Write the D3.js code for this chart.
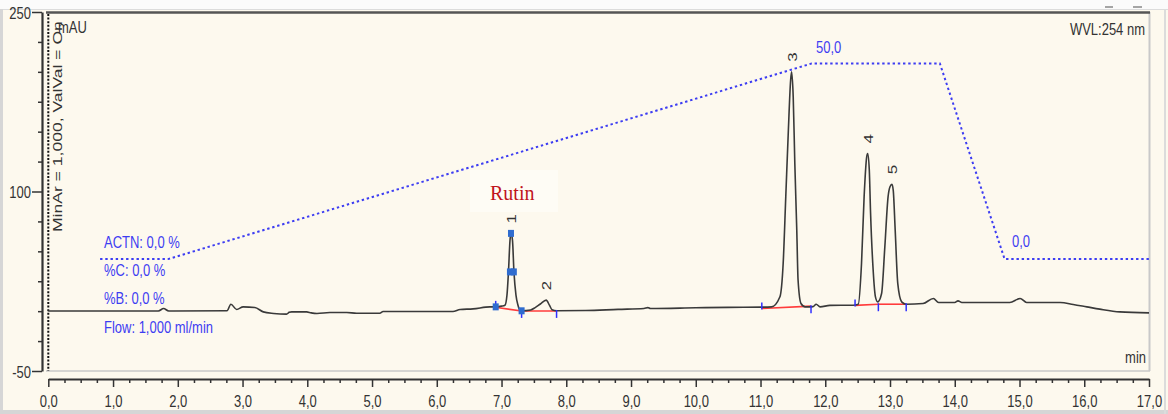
<!DOCTYPE html>
<html lang="en">
<head>
  <meta charset="UTF-8">
  <title>Chromatogram</title>
  <script src="https://d3js.org/d3.v7.min.js"></script>
  <style>
    body {
      margin: 0;
      padding: 0;
      background-color: #fdf9ee;
      overflow: hidden;
    }
    svg text {
      font-family: "Liberation Sans", Arial, sans-serif;
    }
  </style>
</head>
<body>
  <svg id="chart"></svg>

  <script>
    // retention time (min) and signal (mAU)
    const timeMin = [0.00, 1.70, 1.78, 1.86, 2.76, 2.82, 2.91, 3.01, 3.19, 3.32, 3.48, 3.68, 3.72, 3.76,
      3.99, 4.06, 4.15, 4.35, 4.61, 4.76, 5.12, 5.17, 6.25, 6.36, 6.56, 6.82, 6.91, 7.00,
      7.053, 7.084, 7.107, 7.131, 7.146, 7.169, 7.192, 7.223, 7.254, 7.285, 7.31,
      7.45, 7.52, 7.60, 7.69, 7.74, 7.78, 7.85, 8.30, 8.80, 9.20, 9.26, 9.30, 10.00, 10.50,
      11.02, 11.17, 11.30, 11.35, 11.39, 11.43, 11.465, 11.48, 11.505, 11.53, 11.56, 11.58, 11.625,
      11.69, 11.76, 11.81, 11.86, 11.92, 12.07, 12.43,
      12.51, 12.56, 12.60, 12.64, 12.655, 12.68, 12.70, 12.74, 12.775, 12.81,
      12.87, 12.92, 12.97, 13.00, 13.03, 13.05, 13.08, 13.12, 13.18, 13.25,
      13.51, 13.67, 13.75, 14.00, 14.05, 14.11, 14.85, 15.01, 15.11, 15.63, 15.83, 16.04, 16.24, 16.55, 17.00];
    const signalMAU = [0.2, 0.2, 2.2, 0.2, 0.3, 5.8, 1.4, 3.6, 3.1, -0.6, -1.9, -2.5, -1.0, -0.6,
      -0.6, -1.4, -1.9, -1.1, -1.1, -1.7, -1.7, -0.3, -0.3, 1.4, 1.9, 3.6, 3.6, 4.2,
      5.0, 13.4, 32.6, 59.3, 65.0, 59.3, 32.6, 13.4, 5.0, 0.8, 0.3,
      1.0, 3.0, 6.0, 9.2, 5.0, 1.2, 0.3, 0.5, 1.5, 2.2, 3.0, 2.2, 2.8, 3.2,
      3.4, 3.6, 12, 40, 95.5, 151, 193, 200, 179, 123, 67.7, 26, 6.4,
      3.6, 3.6, 3.8, 5.8, 3.6, 4.8, 5.0,
      5.8, 40, 95.5, 129, 131.8, 118, 81.6, 34, 12, 7.8,
      14.8, 53.7, 95.5, 104, 106, 101, 67.7, 23, 7.8, 5.8,
      6.4, 10.6, 7.3, 7.3, 8.6, 7.3, 7.3, 10.6, 7.3, 7.3, 5.6, 3.6, 1.7, -0.6, -1.4];

    // peak apexes
    const peakNames = ["1", "2", "3", "4", "5"];
    const peakTimes = [7.146, 7.69, 11.48, 12.655, 13.03];
    const peakHeights = [65.0, 9.2, 200, 131.8, 106];

    // integration baselines: start/end time and level
    const baseStart = [6.93, 7.31, 11.02, 12.46, 12.82];
    const baseStartMAU = [3.0, 0.2, 2.2, 4.8, 5.8];
    const baseEnd = [7.31, 7.85, 11.78, 12.82, 13.25];
    const baseEndMAU = [0.2, 0.2, 4.2, 5.8, 5.8];

    // peak delimiter ticks (time, level, direction)
    const delimTimes = [6.91, 7.31, 7.85, 11.02, 11.78, 12.46, 12.82, 13.25];
    const delimMAU = [3.6, 0.2, 0.2, 2.2, 4.2, 4.8, 5.8, 5.8];
    const delimUp = [true, false, false, true, false, true, false, false];

    // blue markers drawn on peak 1
    const markTimes = [6.91, 7.13, 7.19, 7.146, 7.31];
    const markMAU = [3.6, 32.8, 32.8, 65.0, 0.3];

    // solvent gradient program
    const gradTime = [0.8, 1.85, 11.79, 13.77, 14.77, 17.0];
    const gradPct = [0, 0, 50, 50, 0, 0];

    const xTicks = d3.range(0, 18);
    const yTicks = [250, 100, -50];
    const infoLines = ["ACTN: 0,0 %", "%C: 0,0 %", "%B: 0,0 %", "Flow: 1,000 ml/min"];

    const W = 1168, H = 414;
    const SY = 1.3; // text in the picture is drawn taller than wide
    const svg = d3.select("#chart").attr("width", W).attr("height", H);

    const x = d3.scaleLinear().domain([0, 17]).range([48.3, 1149]);
    const y = d3.scaleLinear().domain([-50, 250]).range([371, 12]);
    const yG = d3.scaleLinear().domain([0, 50]).range([y(43.5), y(207)]);

    function label(txt, px, py, opt) {
      opt = opt || {};
      const t = svg.append("text")
        .attr("transform", `translate(${px},${py}) scale(1,${opt.sy || SY})` + (opt.rot ? " rotate(-90)" : ""))
        .attr("font-size", (opt.size || 13) + "px")
        .attr("fill", opt.color || "#222")
        .attr("text-anchor", opt.anchor || "start")
        .text(txt);
      if (opt.family) t.style("font-family", opt.family);
      return t;
    }

    // window frame
    svg.append("rect").attr("x", 0).attr("y", 0).attr("width", W).attr("height", 9).attr("fill", "#fbfbfb");
    svg.append("line").attr("x1", 0).attr("x2", W).attr("y1", 9.5).attr("y2", 9.5).attr("stroke", "#dcdcdc");
    svg.append("line").attr("x1", 1.5).attr("x2", 1.5).attr("y1", 9).attr("y2", H).attr("stroke", "#d6d6d6").attr("stroke-width", 3);
    svg.append("line").attr("x1", 0).attr("x2", W).attr("y1", 412).attr("y2", 412).attr("stroke", "#d6d6d6").attr("stroke-width", 4);
    svg.append("line").attr("x1", 1165).attr("x2", 1165).attr("y1", 9).attr("y2", H).attr("stroke", "#dcdcdc").attr("stroke-width", 2);
    svg.append("line").attr("x1", 1105).attr("x2", 1113).attr("y1", 7).attr("y2", 7).attr("stroke", "#888").attr("stroke-width", 1.5);
    svg.append("line").attr("x1", 1133).attr("x2", 1142).attr("y1", 7).attr("y2", 7).attr("stroke", "#888").attr("stroke-width", 1.5);

    // plot frame
    svg.append("line").attr("x1", 1149.5).attr("x2", 1149.5).attr("y1", 12).attr("y2", 371).attr("stroke", "#c9c9c9").attr("stroke-width", 2);
    svg.append("line").attr("x1", 46).attr("x2", 1150).attr("y1", 371).attr("y2", 371).attr("stroke", "#c9c9c9").attr("stroke-width", 1.5);
    svg.append("line").attr("x1", 46).attr("x2", 1150).attr("y1", 12.5).attr("y2", 12.5).attr("stroke", "#555").attr("stroke-width", 2.5);

    // Rutin backdrop
    svg.append("rect").attr("x", 470).attr("y", 170).attr("width", 88).attr("height", 42).attr("fill", "#fefcf5");

    // y axis
    const yMinor = d3.range(-50, 251, 25).filter(v => !yTicks.includes(v));
    svg.append("g").attr("transform", "translate(42,0)")
      .call(d3.axisLeft(y).tickValues(yMinor).tickSize(4).tickFormat("").tickSizeOuter(0))
      .call(g => g.select(".domain").attr("stroke", "#333").attr("stroke-width", 2.2))
      .call(g => g.selectAll(".tick line").attr("stroke", "#333").attr("stroke-width", 1.5));
    svg.append("g").attr("transform", "translate(42,0)")
      .call(d3.axisLeft(y).tickValues(yTicks).tickSize(10).tickSizeOuter(0).tickFormat(d => d))
      .call(g => g.select(".domain").remove())
      .call(g => g.selectAll(".tick line").attr("stroke", "#333").attr("stroke-width", 1.5))
      .call(g => g.selectAll(".tick text")
        .attr("x", null).attr("dy", null)
        .attr("transform", `translate(-11,6) scale(1,${SY})`)
        .attr("font-size", "13px").attr("fill", "#333")
        .style("font-family", "'Liberation Sans', Arial, sans-serif"));

    // injection marker
    svg.append("line").attr("x1", x(0)).attr("x2", x(0)).attr("y1", 14).attr("y2", 371)
      .attr("stroke", "#111").attr("stroke-width", 2).attr("stroke-dasharray", "2,1.6");

    // x axis
    const xMinor = d3.range(0, 17.01, 0.25).filter(v => Math.abs(v - Math.round(v)) > 0.01);
    svg.append("g").attr("transform", "translate(0,379)")
      .call(d3.axisBottom(x).tickValues(xMinor).tickSize(4).tickFormat("").tickSizeOuter(0))
      .call(g => g.select(".domain").attr("stroke", "#333").attr("stroke-width", 2))
      .call(g => g.selectAll(".tick line").attr("stroke", "#333").attr("stroke-width", 1.5));
    svg.append("g").attr("transform", "translate(0,379)")
      .call(d3.axisBottom(x).tickValues(xTicks).tickSize(8).tickSizeOuter(0)
        .tickFormat(d => d3.format(".1f")(d).replace(".", ",")))
      .call(g => g.select(".domain").remove())
      .call(g => g.selectAll(".tick line").attr("stroke", "#333").attr("stroke-width", 1.5))
      .call(g => g.selectAll(".tick text")
        .attr("y", null).attr("dy", null)
        .attr("transform", `translate(0,28) scale(1,${SY})`)
        .attr("font-size", "13px").attr("fill", "#333")
        .style("font-family", "'Liberation Sans', Arial, sans-serif"));

    // gradient program (dotted)
    const gradLine = d3.line().x((d, i) => x(gradTime[i])).y((d, i) => yG(gradPct[i]));
    svg.append("path").attr("d", gradLine(gradTime))
      .attr("fill", "none").attr("stroke", "#3d3df2").attr("stroke-width", 2)
      .attr("stroke-dasharray", "2.4,2.8");

    // integration baselines
    svg.selectAll("line.base").data(baseStart).join("line").attr("class", "base")
      .attr("x1", (d, i) => x(d)).attr("y1", (d, i) => y(baseStartMAU[i]))
      .attr("x2", (d, i) => x(baseEnd[i])).attr("y2", (d, i) => y(baseEndMAU[i]))
      .attr("stroke", "#ff3b3b").attr("stroke-width", 1.6);

    // trace
    const trace = d3.line().curve(d3.curveMonotoneX)
      .x((d, i) => x(timeMin[i])).y((d, i) => y(signalMAU[i]));
    svg.append("path").attr("d", trace(timeMin))
      .attr("fill", "none").attr("stroke", "#3a3a3a").attr("stroke-width", 1.6)
      .attr("stroke-linejoin", "round");

    // peak delimiters
    svg.selectAll("line.delim").data(delimTimes).join("line").attr("class", "delim")
      .attr("x1", d => x(d)).attr("x2", d => x(d))
      .attr("y1", (d, i) => y(delimMAU[i]) + (delimUp[i] ? -6 : -1))
      .attr("y2", (d, i) => y(delimMAU[i]) + (delimUp[i] ? 1 : 7))
      .attr("stroke", "#2f2fff").attr("stroke-width", 1.5);

    // markers on peak 1
    svg.selectAll("rect.mark").data(markTimes).join("rect").attr("class", "mark")
      .attr("x", d => x(d) - 3).attr("y", (d, i) => y(markMAU[i]) - 3.5)
      .attr("width", 6).attr("height", 7).attr("fill", "#2f6ccf");

    // peak numbers
    peakNames.forEach((n, i) => {
      label(n, x(peakTimes[i]) + 5, y(peakHeights[i]) - 10, { rot: true, color: "#333" });
    });

    // texts
    label("Rutin", 490, 200, { size: 20, sy: 1, color: "#c0141c", family: "'Liberation Serif', 'Times New Roman', serif" });
    label("mAU", 58, 33, { color: "#333" });
    label("MinAr = 1,000, ValVal = On", 62, 232, { rot: true, size: 13.5, color: "#333" });
    label("WVL:254 nm", 1145, 35, { anchor: "end", color: "#333" });
    label("min", 1146, 363, { anchor: "end", color: "#333" });
    label("50,0", 816, 53, { color: "#3d3df2" });
    label("0,0", 1012, 247, { color: "#3d3df2" });
    const infoY = [248, 276, 304, 333];
    infoLines.forEach((t, i) => label(t, 104, infoY[i], { color: "#3d3df2" }));
  </script>
</body>
</html>
